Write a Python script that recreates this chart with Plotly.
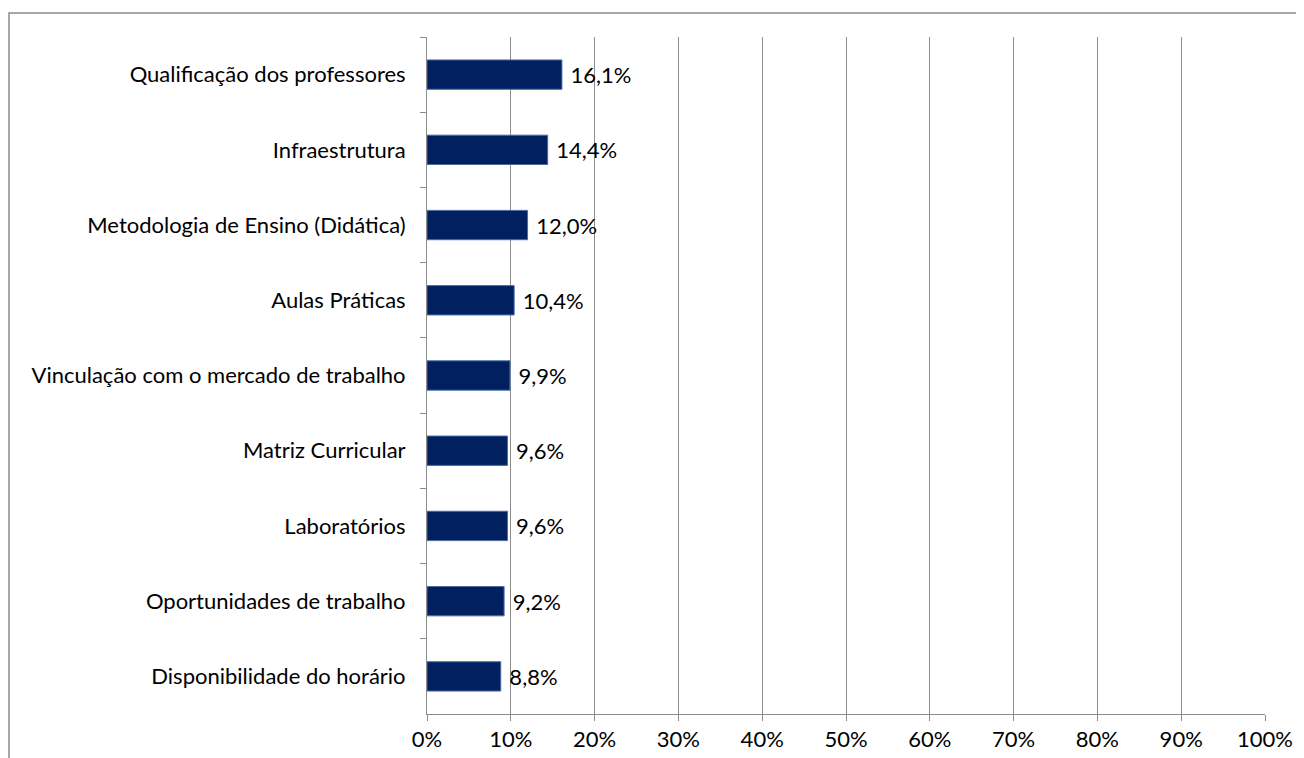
import plotly.graph_objects as go

categories = [
    "Qualificação dos professores",
    "Infraestrutura",
    "Metodologia de Ensino (Didática)",
    "Aulas Práticas",
    "Vinculação com o mercado de trabalho",
    "Matriz Curricular",
    "Laboratórios",
    "Oportunidades de trabalho",
    "Disponibilidade do horário",
]
values = [16.1, 14.4, 12.0, 10.4, 9.9, 9.6, 9.6, 9.2, 8.8]
labels = ["\u00a0" + f"{v:.1f}%".replace(".", ",") for v in values]
xtick_vals = list(range(0, 101, 10))
xtick_text = [f"{v}%" for v in xtick_vals]

FONT = "Lato"
FS = 22
W, H = 1296, 750
L, R, T, B = 419, 39, 29, 44
pw, ph = W - L - R, H - T - B

fig = go.Figure(go.Bar(
    y=categories, x=values, orientation="h",
    marker=dict(color="#002060", line=dict(color="#4a6aa8", width=1)),
    text=labels, textposition="outside", cliponaxis=False,
    textfont=dict(family=FONT, size=FS, color="#000000"),
    width=0.39,
))

fig.update_layout(
    width=W, height=H,
    margin=dict(l=L, r=R, t=T, b=B, autoexpand=False),
    paper_bgcolor="white", plot_bgcolor="white",
    showlegend=False,
    font=dict(family=FONT, size=FS, color="#000000"),
    xaxis=dict(
        range=[0, 100], tickvals=xtick_vals, ticktext=xtick_text,
        showgrid=True, gridcolor="#8c8c8c", gridwidth=1,
        showline=True, linecolor="#8c8c8c", linewidth=1,
        ticks="outside", ticklen=6, tickcolor="#8c8c8c",
        zeroline=False, fixedrange=True,
    ),
    yaxis=dict(
        autorange="reversed", tickson="boundaries",
        showline=True, linecolor="#8c8c8c", linewidth=1,
        ticks="outside", ticklen=6, tickcolor="#8c8c8c",
        showgrid=False, fixedrange=True, ticklabelstandoff=16,
    ),
    shapes=[dict(
        type="rect", xref="paper", yref="paper",
        x0=(1 - L) / pw, x1=(W + 20 - L) / pw,
        y0=-(B + 20) / ph, y1=1 + (T - 5) / ph,
        line=dict(color="#8c8c8c", width=1.5), fillcolor="rgba(0,0,0,0)",
        layer="below",
    )],
)

fig.write_html("out.html")
